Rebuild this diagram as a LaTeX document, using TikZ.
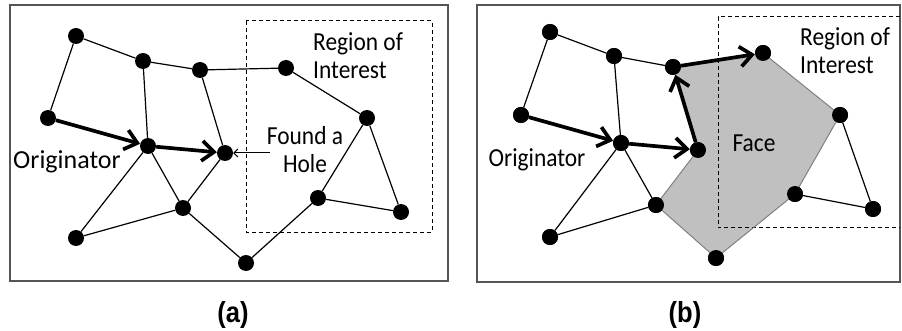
\documentclass[tikz,border=0pt]{standalone}
\usepackage{fontspec}
\usepackage{graphicx}
\setmainfont{Carlito}
\newfontfamily\capfont{Liberation Sans}
\usetikzlibrary{arrows.meta}
\definecolor{framegray}{HTML}{555555}
\definecolor{facefill}{HTML}{C0C0C0}
\definecolor{faceedge}{HTML}{808080}
% slightly condensed label text
\newcommand\narrowtext[1]{\scalebox{0.9}[1]{#1}}
\tikzset{
  dot/.style={circle, fill=black, inner sep=0pt, minimum size=16pt},
  edge/.style={line width=1.2pt},
  route/.style={line width=3.7pt, -{Straight Barb[length=12pt,width=20pt]}},
  faceline/.style={line width=1pt, draw=faceedge},
  panel/.style={draw=framegray, line width=1.4pt},
  roi/.style={line width=1pt, dash pattern=on 4pt off 3pt},
  lbl/.style={font=\fontsize{26}{28}\selectfont, inner sep=0pt},
  caption/.style={font=\capfont\bfseries\fontsize{29}{30}\selectfont, inner sep=0pt},
  pointer/.style={line width=1pt, -{Straight Barb[length=4pt,width=8pt]}}
}
\begin{document}
\begin{tikzpicture}[x=1pt, y=-1pt]
\useasboundingbox (0,0) rectangle (902,331);

% ---------- panel (a) ----------
\draw[panel] (10,5) rectangle (448,281);
\draw[roi] (246,21) rectangle (432,232);

\node[dot] (a1) at (76,36) {};
\node[dot] (a2) at (143,61) {};
\node[dot] (a3) at (200,70) {};
\node[dot] (a4) at (286,68) {};
\node[dot] (a5) at (48,118) {};
\node[dot] (a6) at (148,146) {};
\node[dot] (a7) at (225,153) {};
\node[dot] (a8) at (367,118) {};
\node[dot] (a9) at (183,208) {};
\node[dot] (a10) at (318,198) {};
\node[dot] (a11) at (401,212) {};
\node[dot] (a12) at (76,238) {};
\node[dot] (a13) at (246,263) {};

\draw[edge] (a1) -- (a2);
\draw[edge] (a1) -- (a5);
\draw[edge] (a2) -- (a3);
\draw[edge] (a2) -- (a6);
\draw[edge] (a3) -- (a4);
\draw[edge] (a3) -- (a7);
\draw[edge] (a4) -- (a8);
\draw[edge] (a6) -- (a9);
\draw[edge] (a6) -- (a12);
\draw[edge] (a7) -- (a9);
\draw[edge] (a9) -- (a12);
\draw[edge] (a9) -- (a13);
\draw[edge] (a13) -- (a10);
\draw[edge] (a10) -- (a8);
\draw[edge] (a10) -- (a11);
\draw[edge] (a8) -- (a11);
\draw[route] (a5) -- (a6);
\draw[route] (a6) -- (a7);

\node[lbl, anchor=west, align=left] (roia) at (313,56)
  {\narrowtext{Region of}\\\narrowtext{Interest}};
\node[lbl, align=center] (hole) at (305,150)
  {\narrowtext{Found a}\\\narrowtext{Hole}};
\node[lbl] (origa) at (67,162) {Originator};
\coordinate (holetail) at (270,153);
\draw[pointer] (holetail) -- (a7);

\node[caption] (capa) at (233,315) {\scalebox{0.88}[1]{(a)}};

% ---------- panel (b) ----------
\draw[panel] (477,5) rectangle (900,282);

\node[dot] (b1) at (550,32) {};
\node[dot] (b2) at (614,56) {};
\node[dot] (b3) at (673,67) {};
\node[dot] (b4) at (763,53) {};
\node[dot] (b5) at (521,115) {};
\node[dot] (b6) at (621,143) {};
\node[dot] (b7) at (698,150) {};
\node[dot] (b8) at (840,115) {};
\node[dot] (b9) at (656,205) {};
\node[dot] (b10) at (795,194) {};
\node[dot] (b11) at (873,209) {};
\node[dot] (b12) at (550,237) {};
\node[dot] (b13) at (716,258) {};

% the face bounded by the walk
\fill[facefill] (b3.center) -- (b4.center) -- (b8.center) -- (b10.center)
  -- (b13.center) -- (b9.center) -- (b7.center) -- cycle;
\draw[roi] (900,17) -- (718,17) -- (718,228) -- (900,228);
\draw[faceline] (b4) -- (b8);
\draw[faceline] (b8) -- (b10);
\draw[faceline] (b10) -- (b13);
\draw[faceline] (b13) -- (b9);
\draw[faceline] (b9) -- (b7);

\draw[edge] (b1) -- (b2);
\draw[edge] (b1) -- (b5);
\draw[edge] (b2) -- (b3);
\draw[edge] (b2) -- (b6);
\draw[edge] (b6) -- (b9);
\draw[edge] (b6) -- (b12);
\draw[edge] (b9) -- (b12);
\draw[edge] (b10) -- (b11);
\draw[edge] (b8) -- (b11);
\draw[route] (b5) -- (b6);
\draw[route] (b6) -- (b7);
\draw[route] (b7) -- (b3);
\draw[route] (b3) -- (b4);

\foreach \n in {b1,b2,b3,b4,b5,b6,b7,b8,b9,b10,b11,b12,b13}
  \fill (\n) circle (8pt);

\node[lbl, anchor=west, align=left] (roib) at (800,51)
  {\narrowtext{Region of}\\\narrowtext{Interest}};
\node[lbl] (face) at (754,143) {\narrowtext{Face}};
\node[lbl] (origb) at (537,160) {\narrowtext{Originator}};

\node[caption] (capb) at (685,315) {\scalebox{0.88}[1]{(b)}};
\end{tikzpicture}
\end{document}
